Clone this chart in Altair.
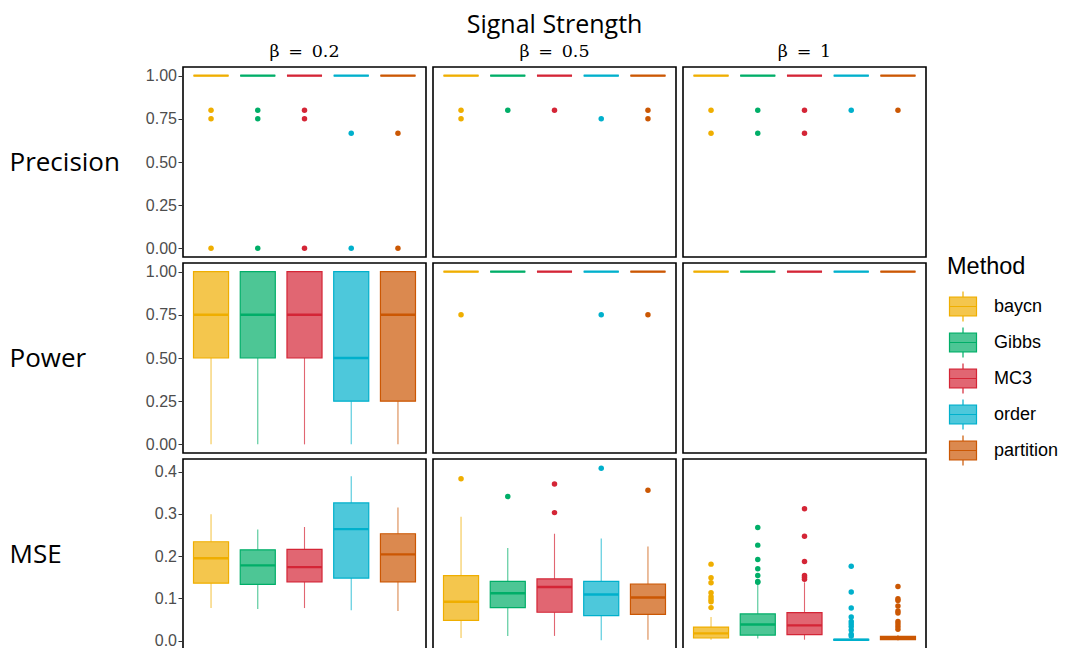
import altair as alt
import pandas as pd

methods = ["baycn", "Gibbs", "MC3", "order", "partition"]
line_colors = ["#EFAE00", "#00AE68", "#D42536", "#00B0CC", "#CB5703"]
betas = ["0.2", "0.5", "1"]
beta_titles = ["β\u2002=\u20020.2", "β\u2002=\u20020.5", "β\u2002=\u20021"]
metrics = ["Precision", "Power", "MSE"]

ones = [1.0, 1.0, 1.0, 1.0, 1.0]

# ---- Precision (all boxes collapse at 1) ----
prec_b02_out = [[0.8, 0.75, 0.0], [0.8, 0.75, 0.0], [0.8, 0.75, 0.0], [0.667, 0.0], [0.667, 0.0]]
prec_b05_out = [[0.8, 0.75], [0.8], [0.8], [0.75], [0.8, 0.75]]
prec_b1_out = [[0.8, 0.667], [0.8, 0.667], [0.8, 0.667], [0.8], [0.8]]

# ---- Power ----
pow_b02_lo = [0.0, 0.0, 0.0, 0.0, 0.0]
pow_b02_q1 = [0.5, 0.5, 0.5, 0.25, 0.25]
pow_b02_med = [0.75, 0.75, 0.75, 0.5, 0.75]
pow_b02_q3 = [1.0, 1.0, 1.0, 1.0, 1.0]
pow_b02_hi = [1.0, 1.0, 1.0, 1.0, 1.0]
pow_b02_out = [[], [], [], [], []]
pow_b05_out = [[0.75], [], [], [0.75], [0.75]]
pow_b1_out = [[], [], [], [], []]

# ---- MSE ----
mse_b02_lo = [0.077, 0.075, 0.077, 0.072, 0.070]
mse_b02_q1 = [0.136, 0.133, 0.139, 0.148, 0.139]
mse_b02_med = [0.195, 0.178, 0.174, 0.264, 0.204]
mse_b02_q3 = [0.234, 0.215, 0.216, 0.326, 0.253]
mse_b02_hi = [0.299, 0.263, 0.269, 0.389, 0.315]
mse_b02_out = [[], [], [], [], []]

mse_b05_lo = [0.006, 0.011, 0.011, 0.001, 0.002]
mse_b05_q1 = [0.048, 0.078, 0.067, 0.059, 0.062]
mse_b05_med = [0.092, 0.112, 0.127, 0.109, 0.102]
mse_b05_q3 = [0.154, 0.140, 0.146, 0.140, 0.134]
mse_b05_hi = [0.293, 0.219, 0.253, 0.242, 0.223]
mse_b05_out = [[0.383], [0.341], [0.371, 0.303], [0.408], [0.356]]

mse_b1_lo = [0.002, 0.005, 0.002, 0.000, 0.000]
mse_b1_q1 = [0.006, 0.013, 0.014, 0.001, 0.002]
mse_b1_med = [0.017, 0.038, 0.036, 0.002, 0.006]
mse_b1_q3 = [0.032, 0.063, 0.066, 0.003, 0.010]
mse_b1_hi = [0.056, 0.134, 0.138, 0.005, 0.013]
mse_b1_out = [
    [0.181, 0.149, 0.137, 0.113, 0.104, 0.097, 0.092, 0.078],
    [0.268, 0.226, 0.192, 0.170, 0.154, 0.140, 0.138],
    [0.312, 0.247, 0.187, 0.154, 0.150, 0.145],
    [0.176, 0.115, 0.077, 0.056, 0.045, 0.039, 0.033, 0.025, 0.015, 0.011],
    [0.128, 0.099, 0.095, 0.082, 0.070, 0.065, 0.045, 0.039, 0.033, 0.027],
]


def blend(hexc, a=0.7):
    r, g, b = (int(hexc[i:i + 2], 16) for i in (1, 3, 5))
    f = lambda c: round(c * a + 255 * (1 - a))
    return "#%02X%02X%02X" % (f(r), f(g), f(b))


fill_colors = [blend(c) for c in line_colors]

panels_stats = {
    ("Precision", "0.2"): (ones, ones, ones, ones, ones, prec_b02_out),
    ("Precision", "0.5"): (ones, ones, ones, ones, ones, prec_b05_out),
    ("Precision", "1"): (ones, ones, ones, ones, ones, prec_b1_out),
    ("Power", "0.2"): (pow_b02_lo, pow_b02_q1, pow_b02_med, pow_b02_q3, pow_b02_hi, pow_b02_out),
    ("Power", "0.5"): (ones, ones, ones, ones, ones, pow_b05_out),
    ("Power", "1"): (ones, ones, ones, ones, ones, pow_b1_out),
    ("MSE", "0.2"): (mse_b02_lo, mse_b02_q1, mse_b02_med, mse_b02_q3, mse_b02_hi, mse_b02_out),
    ("MSE", "0.5"): (mse_b05_lo, mse_b05_q1, mse_b05_med, mse_b05_q3, mse_b05_hi, mse_b05_out),
    ("MSE", "1"): (mse_b1_lo, mse_b1_q1, mse_b1_med, mse_b1_q3, mse_b1_hi, mse_b1_out),
}

LABEL_FONT = "Liberation Sans"
TITLE_FONT = "Open Sans"
BOX_PATH = "M-0.9,-0.62H0.9V0.62H-0.9Z M-0.9,0H0.9 M0,-1V-0.62 M0,0.62V1"

fill_scale = alt.Scale(domain=methods, range=fill_colors)
stroke_scale = alt.Scale(domain=methods, range=line_colors)
ptfill_scale = alt.Scale(domain=methods, range=line_colors)

legend = alt.Legend(
    title="Method", orient="none", legendX=764, legendY=188,
    symbolType=BOX_PATH, symbolSize=900, symbolStrokeWidth=1.2,
    labelFont=LABEL_FONT, labelFontSize=18, labelColor="black", labelOffset=15,
    titleFont=LABEL_FONT, titleFontSize=23.5, titleFontWeight="normal", titleColor="black",
    titlePadding=12, rowPadding=0,
)


def panel(metric, beta, col_idx, row_idx):
    lo, q1, med, q3, hi, outs = panels_stats[(metric, beta)]
    box_df = pd.DataFrame({"method": methods, "lo": lo, "q1": q1, "med": med, "q3": q3, "hi": hi})
    out_rows = [(m, v) for m, vals in zip(methods, outs) for v in vals]
    out_df = pd.DataFrame(out_rows, columns=["method", "value"]) if out_rows else pd.DataFrame({"method": [methods[0]], "value": [None]})

    if metric == "MSE":
        ydom, yvals, yfmt = [-0.02, 0.43], [0, 0.1, 0.2, 0.3, 0.4], ".1f"
    else:
        ydom, yvals, yfmt = [-0.05, 1.05], [0, 0.25, 0.5, 0.75, 1.0], ".2f"
    yscale = alt.Scale(domain=ydom, nice=False, zero=False)
    if col_idx == 0:
        yaxis = alt.Axis(values=yvals, format=yfmt, title=metric, titleAngle=0, titleX=-174, titleY=95,
                         titleAlign="left", titleBaseline="middle", titleFont=TITLE_FONT,
                         titleFontSize=26, titleFontWeight="normal", titleColor="black")
    else:
        yaxis = None
    x = alt.X("method:N", scale=alt.Scale(domain=methods, paddingInner=0.25, paddingOuter=0.225), axis=None)
    base = alt.Chart(box_df)
    stroke_enc = alt.Stroke("method:N", scale=stroke_scale, legend=legend)
    box = base.mark_bar(strokeWidth=1.2).encode(
        x=x, y=alt.Y("q1:Q", scale=yscale, axis=yaxis), y2="q3:Q",
        color=alt.Color("method:N", scale=fill_scale, legend=legend),
        stroke=stroke_enc)
    w_lo = base.mark_rule(strokeWidth=1.1, opacity=0.7).encode(
        x=x, y=alt.Y("lo:Q", scale=yscale, axis=yaxis), y2="q1:Q", stroke=stroke_enc)
    w_hi = base.mark_rule(strokeWidth=1.1, opacity=0.7).encode(
        x=x, y=alt.Y("q3:Q", scale=yscale, axis=yaxis), y2="hi:Q", stroke=stroke_enc)
    medl = base.mark_bar(strokeWidth=2.4, fillOpacity=0).encode(
        x=x, y=alt.Y("med:Q", scale=yscale, axis=yaxis), y2="med:Q", stroke=stroke_enc)
    pts = alt.Chart(out_df).mark_circle(size=30, opacity=1).encode(
        x=x, y=alt.Y("value:Q", scale=yscale, axis=yaxis),
        fill=alt.Fill("method:N", scale=ptfill_scale, legend=None))
    ch = alt.layer(box, w_lo, w_hi, medl, pts).properties(width=243, height=190)
    if row_idx == 0:
        ch = ch.properties(title=alt.TitleParams(beta_titles[col_idx], font="DejaVu Serif",
                                                 fontSize=17.5, fontWeight="normal", color="black",
                                                 anchor="middle", offset=7))
    return ch


rows = []
for ri, m in enumerate(metrics):
    rows.append(alt.hconcat(*[panel(m, b, ci, ri) for ci, b in enumerate(betas)], spacing=5))

chart = alt.vconcat(*rows, spacing=4).resolve_scale(
    color="shared", stroke="shared", fill="shared"
).properties(
    title=alt.TitleParams("Signal Strength", font=TITLE_FONT, fontSize=25, fontWeight="normal",
                          color="black", anchor="middle", offset=4, dx=21),
    padding={"left": 0, "top": 4, "right": 0, "bottom": 5},
).configure_view(
    stroke="black", strokeWidth=1.6
).configure_axis(
    grid=False, domain=False, tickColor="#333333", tickSize=5, tickWidth=1,
    labelColor="#4D4D4D", labelFont=LABEL_FONT, labelFontSize=16, labelPadding=1.5,
)

chart.save("out.html", embed_options={"renderer": "svg", "actions": False})
